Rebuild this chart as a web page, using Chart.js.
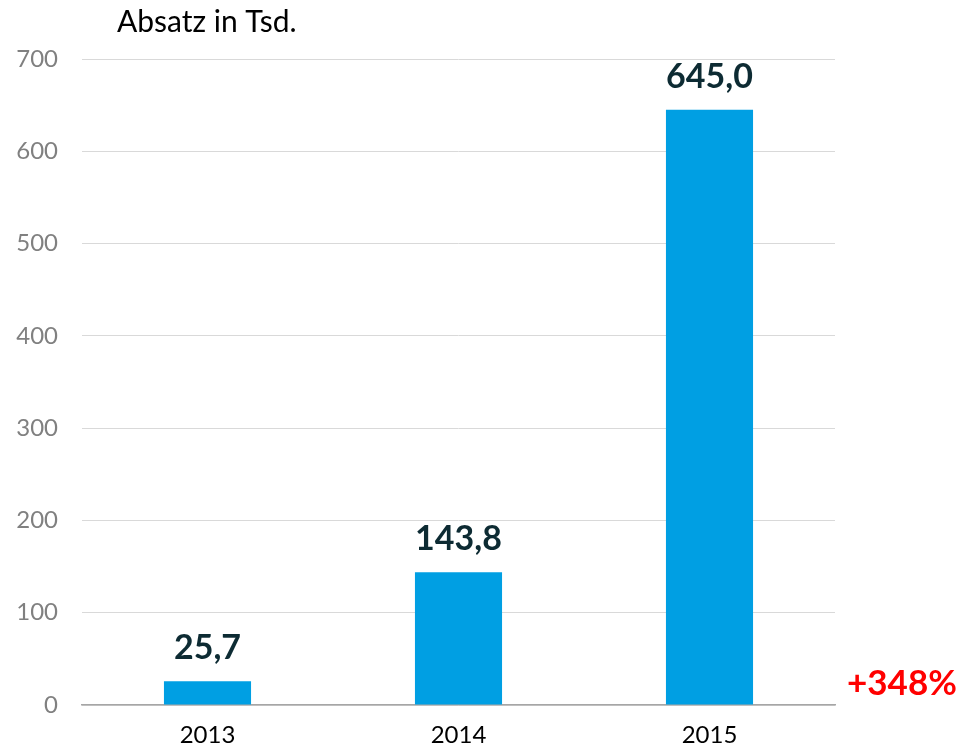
<!DOCTYPE html>
<html>
<head>
<meta charset="utf-8">
<script src="https://cdn.jsdelivr.net/npm/chart.js@4/dist/chart.umd.min.js"></script>
<style>
  html, body { margin: 0; padding: 0; background: #fff; }
  #wrap { width: 964px; height: 748px; position: relative; }
</style>
</head>
<body>
<div id="wrap"><canvas id="absatz"></canvas></div>
<script>
// Daten
const years = ['2013', '2014', '2015'];
const absatz = [25.7, 143.8, 645.0];
const yTicks = [0, 100, 200, 300, 400, 500, 600, 700];
const titleText = 'Absatz in Tsd.';
const growthText = '+348%';

const FONT = 'Lato, "Open Sans", sans-serif';

// Beschriftungen: Titel, Werte über den Balken, Wachstum
const labelPlugin = {
  id: 'labels',
  afterDatasetsDraw(chart) {
    const ctx = chart.ctx;
    const meta = chart.getDatasetMeta(0);
    ctx.save();
    ctx.fillStyle = '#0d2b33';
    ctx.font = 'bold 34px ' + FONT;
    ctx.textAlign = 'center';
    ctx.textBaseline = 'alphabetic';
    meta.data.forEach((bar, i) => {
      const txt = absatz[i].toFixed(1).replace('.', ',');
      ctx.fillText(txt, bar.x, bar.y - 22);
    });

    ctx.fillStyle = '#000';
    ctx.font = '30px ' + FONT;
    ctx.textAlign = 'left';
    ctx.fillText(titleText, 117, 32);

    ctx.fillStyle = '#ff0000';
    ctx.font = 'bold 35px ' + FONT;
    ctx.fillText(growthText, 847, 695);
    ctx.restore();
  }
};

new Chart(document.getElementById('absatz'), {
  type: 'bar',
  data: {
    labels: years,
    datasets: [{
      data: absatz,
      backgroundColor: '#009fe3',
      borderWidth: 0,
      barPercentage: 0.347,
      categoryPercentage: 1
    }]
  },
  options: {
    responsive: true,
    maintainAspectRatio: false,
    animation: false,
    layout: { padding: { top: 59, right: 129, left: 0, bottom: 0 } },
    plugins: { legend: { display: false }, tooltip: { enabled: false } },
    scales: {
      x: {
        grid: { display: false, drawTicks: false },
        border: { color: '#a6a6a6', width: 1.5 },
        ticks: { color: '#000', font: { family: FONT, size: 24 }, padding: 16 },
        afterFit(scale) { scale.height = 43; }
      },
      y: {
        min: 0,
        max: 700,
        afterBuildTicks(scale) { scale.ticks = yTicks.map(v => ({ value: v })); },
        grid: { color: '#d9d9d9', lineWidth: 1, drawTicks: false },
        border: { display: false },
        ticks: { color: '#808080', font: { family: FONT, size: 24 }, padding: 24 },
        afterFit(scale) { scale.width = 82; }
      }
    }
  },
  plugins: [labelPlugin]
});
</script>
</body>
</html>
